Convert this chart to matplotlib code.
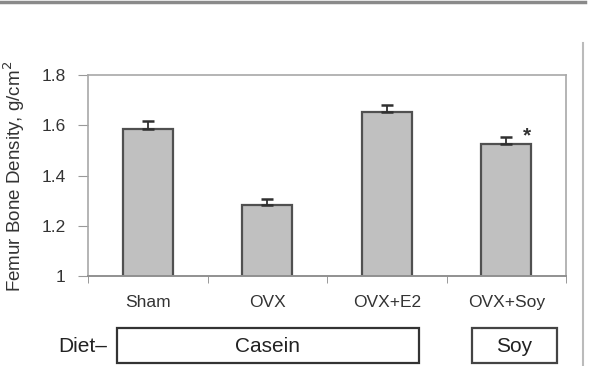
import matplotlib
matplotlib.use("Agg")
import matplotlib.pyplot as plt
from matplotlib.patches import Rectangle
from matplotlib.lines import Line2D

categories = ["Sham", "OVX", "OVX+E2", "OVX+Soy"]
values = [1.585, 1.282, 1.652, 1.524]
errors = [0.030, 0.026, 0.030, 0.028]
yticks = [1.0, 1.2, 1.4, 1.6, 1.8]
ytick_labels = ["1", "1.2", "1.4", "1.6", "1.8"]
diet_groups = ["Casein", "Soy"]

W, H = 592, 366
fig = plt.figure(figsize=(W / 100, H / 100), dpi=100)
plt.rcParams['font.family'] = ['Liberation Sans', 'DejaVu Sans']

def fx(px):
    return px / W

def fy(py):
    return 1 - py / H

ax = fig.add_axes([fx(88), fy(276), fx(566) - fx(88), fy(75) - fy(276)])
x = list(range(len(categories)))
ax.bar(x, values, width=0.42, color="#c0c0c0", edgecolor="#505050", linewidth=1.6, zorder=2)
ax.errorbar(x, values, yerr=[[0] * len(errors), errors], fmt="none", ecolor="#303030",
            elinewidth=1.3, capsize=4, capthick=1.8, zorder=3)
ax.text(3 + 0.17, values[3] + errors[3] + 0.005, "*", ha="center", va="center",
        fontsize=15, fontweight="bold", color="#333333")

ax.set_xlim(-0.5, 3.5)
ax.set_ylim(1.0, 1.8)
ax.set_yticks(yticks)
ax.set_yticklabels(ytick_labels, fontsize=12.5, color="#333333")
ax.set_xticks(x)
ax.set_xticklabels(categories, fontsize=12.5, color="#333333")
ax.tick_params(axis="x", length=0, pad=14)
ax.set_xticks([-0.5, 0.5, 1.5, 2.5, 3.5], minor=True)
ax.tick_params(axis="x", which="minor", length=5, color="#888888", direction="out")
ax.tick_params(axis="y", length=7, color="#999999", pad=9, direction="out")
for s in ["left", "top", "right"]:
    ax.spines[s].set_color("#a8a8a8")
    ax.spines[s].set_linewidth(1.2)
ax.spines["bottom"].set_color("#909090")
ax.spines["bottom"].set_linewidth(1.4)

ax.set_ylabel("Femur Bone Density, g/cm$^2$", fontsize=13.5, color="#333333")
ax.yaxis.set_label_coords(-(88 - 27) / 478, (276 - 176) / 201)

# bottom diet boxes
fig.add_artist(Rectangle((fx(117), fy(363)), fx(419) - fx(117), fy(328) - fy(363),
                         transform=fig.transFigure, fill=False, edgecolor="#333333", linewidth=1.6))
fig.add_artist(Rectangle((fx(472), fy(363)), fx(557) - fx(472), fy(328) - fy(363),
                         transform=fig.transFigure, fill=False, edgecolor="#444444", linewidth=1.6))
fig.text(fx(83), fy(347), "Diet\u2013", ha="center", va="center", fontsize=15, color="#222222")
fig.text(fx((117 + 419) / 2), fy(346), diet_groups[0], ha="center", va="center", fontsize=15, color="#222222")
fig.text(fx((472 + 557) / 2), fy(346), diet_groups[1], ha="center", va="center", fontsize=15, color="#222222")

# page decoration lines
fig.add_artist(Line2D([0, fx(585)], [fy(2), fy(2)], transform=fig.transFigure,
                      color="#8a8a8a", linewidth=2.5))
fig.add_artist(Line2D([fx(583), fx(583)], [fy(43), 0], transform=fig.transFigure,
                      color="#bbbbbb", linewidth=1.5))

fig.savefig("out.png", dpi=100)
